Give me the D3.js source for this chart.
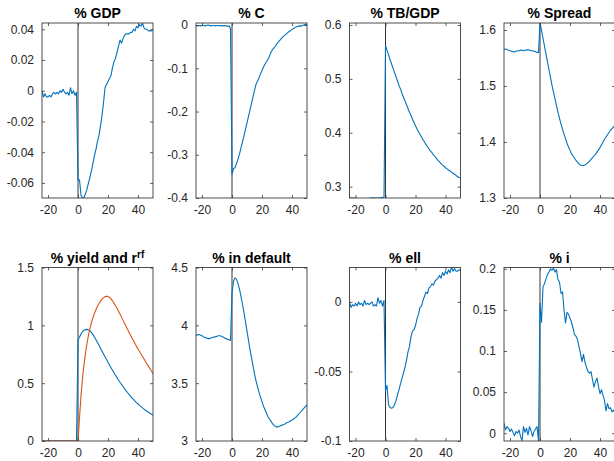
<!DOCTYPE html>
<html>
<head>
<meta charset="utf-8">
<script src="https://cdn.jsdelivr.net/npm/d3@7"></script>
<style>
  body { margin: 0; background: #fff; }
  svg { display: block; }
  text { font-family: "Liberation Sans", Arial, Helvetica, sans-serif; }
</style>
</head>
<body>
<svg id="fig" width="614" height="461"></svg>
<script>
// Horizon of the impulse responses (quarters relative to the shock)
const periods = d3.range(-24, 51);
const xTicks = [-20, 0, 20, 40];

// ---- series: one value per period, t = -24 ... 50 ----
const gdp = [
  0.000, -0.004, -0.002, -0.004, -0.004, -0.003, -0.004, -0.002, -0.001, -0.002,
  -0.001, -0.002, 0.000, -0.001, 0.001, -0.001, -0.002, -0.001, -0.003, 0.002,
  -0.002, 0.000, -0.003, -0.001,
  -0.058, -0.058, -0.068, -0.0698, -0.0695, -0.067, -0.064, -0.060, -0.056, -0.052,
  -0.047, -0.042, -0.038, -0.033, -0.029, -0.023, -0.016, -0.008, 0.002, 0.004,
  0.006, 0.008, 0.010, 0.015, 0.019, 0.021, 0.025, 0.029, 0.033, 0.031,
  0.034, 0.036, 0.037, 0.037, 0.037, 0.038, 0.038, 0.040, 0.039, 0.042,
  0.041, 0.043, 0.042, 0.044, 0.041, 0.040, 0.040, 0.039, 0.039, 0.039, 0.040
];

const consumption = [
  -0.001, -0.002, -0.001, -0.002, -0.001, -0.001, -0.002, -0.001, 0.000, -0.001,
  -0.002, -0.001, -0.001, -0.002, -0.001, -0.001, -0.002, -0.001, -0.002, -0.001,
  -0.002, -0.003, -0.002, -0.008,
  -0.345, -0.332, -0.330, -0.320, -0.310, -0.298, -0.284, -0.270, -0.256, -0.241,
  -0.226, -0.211, -0.196, -0.181, -0.166, -0.151, -0.137, -0.130, -0.122, -0.113,
  -0.105, -0.097, -0.090, -0.085, -0.079, -0.072, -0.063, -0.057, -0.053, -0.048,
  -0.043, -0.039, -0.035, -0.031, -0.027, -0.024, -0.021, -0.018, -0.015, -0.013,
  -0.010, -0.008, -0.006, -0.004, -0.003, -0.002, -0.003, -0.001, 0.000, 0.001, 0.002
];

const tradeBalance = [
  0.280, 0.279, 0.279, 0.279, 0.279, 0.278, 0.278, 0.278, 0.278, 0.278,
  0.278, 0.278, 0.278, 0.278, 0.279, 0.279, 0.279, 0.279, 0.279, 0.279,
  0.279, 0.280, 0.280, 0.281,
  0.562, 0.553, 0.545, 0.536, 0.528, 0.520, 0.512, 0.504, 0.496, 0.488,
  0.481, 0.473, 0.466, 0.459, 0.452, 0.445, 0.438, 0.432, 0.425, 0.419,
  0.413, 0.407, 0.402, 0.397, 0.392, 0.387, 0.383, 0.378, 0.374, 0.370,
  0.366, 0.363, 0.359, 0.356, 0.352, 0.349, 0.346, 0.343, 0.340, 0.338,
  0.335, 0.333, 0.331, 0.329, 0.327, 0.325, 0.323, 0.321, 0.319, 0.317, 0.316
];

const spread = [
  1.565, 1.566, 1.565, 1.564, 1.563, 1.562, 1.561, 1.561, 1.562, 1.563,
  1.563, 1.564, 1.564, 1.563, 1.564, 1.564, 1.565, 1.564, 1.563, 1.563,
  1.562, 1.561, 1.560, 1.560,
  1.612, 1.600, 1.585, 1.571, 1.557, 1.543, 1.529, 1.515, 1.501, 1.489,
  1.477, 1.465, 1.453, 1.442, 1.432, 1.423, 1.414, 1.406, 1.398, 1.391,
  1.385, 1.379, 1.375, 1.371, 1.367, 1.364, 1.361, 1.359, 1.358, 1.358,
  1.359, 1.361, 1.363, 1.366, 1.369, 1.372, 1.375, 1.378, 1.382, 1.386,
  1.390, 1.395, 1.400, 1.405, 1.409, 1.413, 1.417, 1.421, 1.424, 1.427, 1.430
];

const bondYield = [
  0, 0, 0, 0, 0, 0, 0, 0, 0, 0, 0, 0, 0, 0, 0, 0, 0, 0, 0, 0, 0, 0, 0, 0,
  0.870, 0.900, 0.925, 0.945, 0.957, 0.963, 0.965, 0.961, 0.952, 0.938,
  0.920, 0.899, 0.876, 0.852, 0.827, 0.802, 0.777, 0.752, 0.728, 0.704,
  0.680, 0.657, 0.634, 0.612, 0.590, 0.569, 0.548, 0.528, 0.508, 0.489,
  0.471, 0.453, 0.436, 0.419, 0.403, 0.388, 0.373, 0.359, 0.345, 0.332,
  0.320, 0.308, 0.297, 0.286, 0.276, 0.266, 0.257, 0.248, 0.240, 0.232, 0.224
];

const riskFree = [
  0, 0, 0, 0, 0, 0, 0, 0, 0, 0, 0, 0, 0, 0, 0, 0, 0, 0, 0, 0, 0, 0, 0, 0,
  0.000, 0.200, 0.390, 0.540, 0.660, 0.760, 0.845, 0.915, 0.975, 1.025,
  1.068, 1.105, 1.137, 1.165, 1.189, 1.209, 1.226, 1.239, 1.248, 1.252,
  1.250, 1.242, 1.229, 1.212, 1.192, 1.170, 1.147, 1.122, 1.097, 1.071,
  1.045, 1.019, 0.993, 0.967, 0.941, 0.916, 0.891, 0.866, 0.842, 0.818,
  0.795, 0.773, 0.752, 0.731, 0.710, 0.688, 0.666, 0.645, 0.624, 0.603, 0.582
];

const inDefault = [
  3.910, 3.920, 3.920, 3.915, 3.910, 3.900, 3.895, 3.890, 3.885, 3.885,
  3.890, 3.895, 3.900, 3.900, 3.905, 3.910, 3.910, 3.905, 3.900, 3.890,
  3.885, 3.880, 3.875, 3.870,
  4.280, 4.380, 4.410, 4.400, 4.360, 4.310, 4.250, 4.180, 4.110, 4.030,
  3.950, 3.870, 3.790, 3.720, 3.650, 3.580, 3.520, 3.470, 3.420, 3.380,
  3.340, 3.300, 3.270, 3.240, 3.210, 3.190, 3.170, 3.150, 3.135, 3.125,
  3.120, 3.125, 3.130, 3.135, 3.140, 3.145, 3.155, 3.160, 3.165, 3.175,
  3.180, 3.190, 3.200, 3.210, 3.225, 3.240, 3.255, 3.270, 3.285, 3.300, 3.310
];

const ell = [
  0.000, -0.004, -0.002, -0.003, -0.001, -0.003, 0.000, -0.002, -0.001, -0.003,
  0.001, -0.002, -0.001, -0.002, -0.001, 0.000, -0.003, -0.002, -0.003, 0.003,
  -0.001, 0.001, -0.003, 0.001,
  -0.064, -0.060, -0.074, -0.076, -0.0765, -0.076, -0.074, -0.071, -0.067, -0.063,
  -0.059, -0.055, -0.051, -0.047, -0.042, -0.036, -0.032, -0.025, -0.021, -0.020,
  -0.017, -0.012, -0.009, -0.004, -0.003, 0.001, 0.004, 0.007, 0.006, 0.010,
  0.011, 0.013, 0.012, 0.015, 0.016, 0.017, 0.019, 0.017, 0.021, 0.019,
  0.022, 0.020, 0.023, 0.021, 0.025, 0.022, 0.024, 0.022, 0.022, 0.023, 0.023
];

const investment = [
  0.012, 0.004, 0.008, 0.006, 0.002, 0.005, 0.001, -0.003, 0.002, 0.000,
  0.004, -0.004, -0.009, 0.008, 0.001, 0.006, -0.002, 0.008, 0.003, -0.004,
  0.002, 0.005, 0.008, -0.009,
  0.158, 0.135, 0.178, 0.182, 0.188, 0.193, 0.196, 0.200, 0.198, 0.201,
  0.196, 0.199, 0.187, 0.184, 0.170, 0.172, 0.150, 0.134, 0.147, 0.145,
  0.140, 0.135, 0.128, 0.120, 0.118, 0.114, 0.105, 0.097, 0.087, 0.096,
  0.086, 0.080, 0.075, 0.073, 0.075, 0.065, 0.056, 0.063, 0.067, 0.057,
  0.048, 0.053, 0.046, 0.040, 0.027, 0.036, 0.030, 0.031, 0.026, 0.028, 0.024
];

// ---- y tick values for each panel ----
const gdpTicks = [-0.06, -0.04, -0.02, 0, 0.02, 0.04];
const consumptionTicks = [-0.4, -0.3, -0.2, -0.1, 0];
const tradeBalanceTicks = [0.3, 0.4, 0.5, 0.6];
const spreadTicks = [1.3, 1.4, 1.5, 1.6];
const yieldTicks = [0, 0.5, 1, 1.5];
const defaultTicks = [3, 3.5, 4, 4.5];
const ellTicks = [-0.1, -0.05, 0];
const investmentTicks = [0, 0.05, 0.1, 0.15, 0.2];

const BLUE = "#0072BD", ORANGE = "#D95319";

const panels = [
  { title: ["% GDP"], lines: [gdp], yDomain: [-0.0698, 0.0441], yTicks: gdpTicks },
  { title: ["% C"], lines: [consumption], yDomain: [-0.4, 0.0047], yTicks: consumptionTicks },
  { title: ["% TB/GDP"], lines: [tradeBalance], yDomain: [0.279, 0.6037], yTicks: tradeBalanceTicks },
  { title: ["% Spread"], lines: [spread], yDomain: [1.3, 1.6125], yTicks: spreadTicks },
  { title: ["% yield and r", "rf"], lines: [bondYield, riskFree], yDomain: [0, 1.5], yTicks: yieldTicks },
  { title: ["% in default"], lines: [inDefault], yDomain: [3, 4.5], yTicks: defaultTicks },
  { title: ["% ell"], lines: [ell], yDomain: [-0.1, 0.0247], yTicks: ellTicks },
  { title: ["% i"], lines: [investment], yDomain: [-0.0095, 0.2016], yTicks: investmentTicks }
];

// ---- layout of the 2 x 4 grid ----
const colLeft = [42, 196, 349.5, 504];
const plotW = 111;
const rowTop = [23, 267.5];
const rowBottom = [198, 441];
const tickLen = 3;
const axisColor = "#3a3a3a";
const labelColor = "#262626";

const svg = d3.select("#fig");

panels.forEach((p, i) => {
  const r = Math.floor(i / 4), c = i % 4;
  const x0 = colLeft[c], x1 = x0 + plotW;
  const y0 = rowTop[r], y1 = rowBottom[r];

  const x = d3.scaleLinear().domain([-24, 50]).range([x0, x1]);
  const y = d3.scaleLinear().domain(p.yDomain).range([y1, y0]);

  const g = svg.append("g");
  const clipId = "clip" + i;
  g.append("clipPath").attr("id", clipId)
    .append("rect").attr("x", x0).attr("y", y0).attr("width", x1 - x0).attr("height", y1 - y0);

  const plot = g.append("g").attr("clip-path", `url(#${clipId})`);

  // shock date marker
  plot.append("line")
    .attr("x1", x(0)).attr("x2", x(0)).attr("y1", y0).attr("y2", y1)
    .attr("stroke", "#000").attr("stroke-width", 0.8);

  const line = d3.line().x((d, k) => x(periods[k])).y(d => y(d));
  p.lines.forEach((s, k) => {
    plot.append("path")
      .datum(s)
      .attr("d", line)
      .attr("fill", "none")
      .attr("stroke", k === 0 ? BLUE : ORANGE)
      .attr("stroke-width", 1.1)
      .attr("stroke-linejoin", "round");
  });

  // axes: bottom/left with labels, top/right mirrored ticks only
  const fmt = v => String(v);
  const styleAxis = sel => {
    sel.select(".domain").remove();
    sel.selectAll(".tick line").attr("stroke", axisColor).attr("stroke-width", 0.8);
    sel.selectAll(".tick text").attr("fill", labelColor).style("font-size", "12px");
  };

  g.append("g").attr("transform", `translate(0,${y1})`)
    .call(d3.axisBottom(x).tickValues(xTicks).tickFormat(fmt).tickSizeInner(-tickLen).tickSizeOuter(0).tickPadding(7))
    .call(styleAxis);
  g.append("g").attr("transform", `translate(0,${y0})`)
    .call(d3.axisTop(x).tickValues(xTicks).tickFormat("").tickSizeInner(-tickLen).tickSizeOuter(0))
    .call(styleAxis);
  g.append("g").attr("transform", `translate(${x0},0)`)
    .call(d3.axisLeft(y).tickValues(p.yTicks).tickFormat(fmt).tickSizeInner(-tickLen).tickSizeOuter(0).tickPadding(8))
    .call(styleAxis);
  g.append("g").attr("transform", `translate(${x1},0)`)
    .call(d3.axisRight(y).tickValues(p.yTicks).tickFormat("").tickSizeInner(-tickLen).tickSizeOuter(0))
    .call(styleAxis);

  // box
  g.append("rect")
    .attr("x", x0).attr("y", y0).attr("width", x1 - x0).attr("height", y1 - y0)
    .attr("fill", "none").attr("stroke", axisColor).attr("stroke-width", 0.9);

  // title
  const t = g.append("text")
    .attr("x", (x0 + x1) / 2).attr("y", y0 - 5)
    .attr("text-anchor", "middle")
    .attr("fill", "#000")
    .style("font-size", "14px").style("font-weight", "bold");
  t.append("tspan").text(p.title[0]);
  if (p.title[1]) {
    t.append("tspan").attr("dy", -5).style("font-size", "10px").text(p.title[1]);
  }
});
</script>
</body>
</html>
